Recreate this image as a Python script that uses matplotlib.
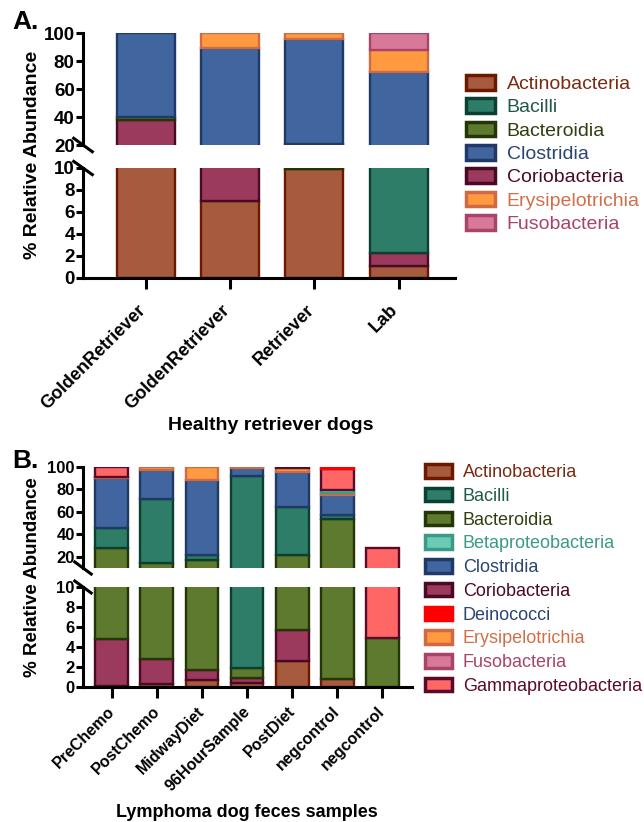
import matplotlib
matplotlib.use("Agg")
import matplotlib.pyplot as plt
from matplotlib.patches import Patch
from matplotlib.transforms import ScaledTranslation

plt.rcParams['font.family'] = ['Liberation Sans', 'DejaVu Sans']

# ---- panel A data (healthy retriever dogs) ----
a_samples = ["GoldenRetriever", "GoldenRetriever", "Retriever", "Lab"]
a_actino = [15, 7, 9.9, 1.1]
a_corio = [23, 8, 0, 1.2]
a_bacteroidia = [2, 0, 11, 0]
a_bacilli = [0, 0, 0, 16]
a_clostridia = [60, 74, 75.1, 53.8]
a_erysip = [0, 11, 4, 16]
a_fuso = [0, 0, 0, 11.9]

# ---- panel B data (lymphoma dog feces) ----
b_samples = ["PreChemo", "PostChemo", "MidwayDiet", "96HourSample",
             "PostDiet", "negcontrol", "negcontrol"]
b_actino = [0.1, 0.3, 0.7, 0.4, 2.6, 0.85, 0]
b_corio = [4.7, 2.5, 1.0, 0.5, 3.1, 0, 0]
b_bacteroidia = [23, 11.8, 15.3, 1.0, 15.8, 53, 4.9]
b_bacilli = [18, 56.8, 4.5, 89.7, 43.2, 3, 0]
b_clostridia = [44.5, 25.6, 66.5, 7.4, 30.5, 18.5, 0]
b_erysip = [0.7, 3, 12, 1.0, 3.8, 1.5, 0]
b_beta = [0, 0, 0, 0, 0, 2.5, 0]
b_fuso = [0, 0, 0, 0, 0, 0, 0]
b_gamma = [9, 0, 0, 0, 1.0, 19, 22.6]
b_deino = [0, 0, 0, 0, 0, 1.6, 0]

# fill, edge, legend text colour
styles = {
    "Actinobacteria": ("#A65A3E", "#6B1A00", "#7A2A10"),
    "Bacilli": ("#2E7D68", "#0B4030", "#1F5A48"),
    "Bacteroidia": ("#5E7A2E", "#243608", "#2F3F10"),
    "Betaproteobacteria": ("#6CCBB5", "#3A9A86", "#3A9A86"),
    "Clostridia": ("#41659E", "#1F3A66", "#2A4570"),
    "Coriobacteria": ("#9B3A5C", "#4A0A26", "#4A0A26"),
    "Deinococci": ("#FF0000", "#FF0000", "#2A4570"),
    "Erysipelotrichia": ("#FF9A40", "#D06A45", "#D0704A"),
    "Fusobacteria": ("#D9799A", "#A84468", "#A84468"),
    "Gammaproteobacteria": ("#FF6666", "#5A0A2A", "#5A0A2A"),
}

a_stack = [("Actinobacteria", a_actino), ("Coriobacteria", a_corio),
           ("Bacteroidia", a_bacteroidia), ("Bacilli", a_bacilli),
           ("Clostridia", a_clostridia), ("Erysipelotrichia", a_erysip),
           ("Fusobacteria", a_fuso)]
b_stack = [("Actinobacteria", b_actino), ("Coriobacteria", b_corio),
           ("Bacteroidia", b_bacteroidia), ("Bacilli", b_bacilli),
           ("Clostridia", b_clostridia), ("Erysipelotrichia", b_erysip),
           ("Betaproteobacteria", b_beta), ("Fusobacteria", b_fuso),
           ("Gammaproteobacteria", b_gamma), ("Deinococci", b_deino)]

a_legend = ["Actinobacteria", "Bacilli", "Bacteroidia", "Clostridia",
            "Coriobacteria", "Erysipelotrichia", "Fusobacteria"]
b_legend = ["Actinobacteria", "Bacilli", "Bacteroidia", "Betaproteobacteria",
            "Clostridia", "Coriobacteria", "Deinococci", "Erysipelotrichia",
            "Fusobacteria", "Gammaproteobacteria"]

W, H = 644, 822
fig = plt.figure(figsize=(W / 100, H / 100), dpi=100)


def box(x0, y0, x1, y1):
    # pixel box (top-left origin) -> figure fraction rect
    return [x0 / W, 1 - y1 / H, (x1 - x0) / W, (y1 - y0) / H]


def panel(stack, samples, xlim, width, top_rect, bot_rect, top_lim,
          tick_fs, xtick_fs, xpad, xshift):
    ax_t = fig.add_axes(top_rect)
    ax_b = fig.add_axes(bot_rect)
    x = list(range(len(samples)))
    for ax in (ax_t, ax_b):
        bottom = [0] * len(samples)
        for name, vals in stack:
            fc, ec, _ = styles[name]
            lw = [1.7 if v > 0 else 0 for v in vals]
            ax.bar(x, vals, width, bottom=bottom, color=fc, edgecolor=ec,
                   linewidth=lw, zorder=2)
            bottom = [b + v for b, v in zip(bottom, vals)]
        ax.set_xlim(*xlim)
        for s in ("top", "right"):
            ax.spines[s].set_visible(False)
        ax.spines["left"].set_linewidth(2.2)
        ax.spines["bottom"].set_linewidth(2.2)
        ax.tick_params(axis="y", width=2.2, length=5, pad=1)
    ax_t.set_ylim(*top_lim)
    ax_t.set_yticks([20, 40, 60, 80, 100])
    ax_t.spines["bottom"].set_visible(False)
    ax_t.tick_params(axis="x", bottom=False, labelbottom=False)
    ax_b.set_ylim(0, 10)
    ax_b.set_yticks([0, 2, 4, 6, 8, 10])
    ax_b.set_xticks(x)
    ax_b.set_xticklabels(samples, rotation=45, ha="right", va="top",
                         rotation_mode="anchor", fontsize=xtick_fs,
                         fontweight="bold")
    ax_b.tick_params(axis="x", width=2.2, length=8, pad=xpad)
    shift = ScaledTranslation(xshift / 100, 0, fig.dpi_scale_trans)
    for t in ax_b.get_xticklabels():
        t.set_transform(t.get_transform() + shift)
    for ax in (ax_t, ax_b):
        for t in ax.get_yticklabels():
            t.set_fontweight("bold")
            t.set_fontsize(tick_fs)
    # break marks
    for ax, yy in ((ax_t, 0), (ax_b, 1)):
        ax.plot([-0.025, 0.025], [yy + 0.06, yy - 0.06], transform=ax.transAxes,
                color="black", lw=2.2, clip_on=False, zorder=5)
    return ax_t, ax_b


# panel A
panel(a_stack, a_samples, (-0.75, 3.67), 0.69,
      box(83, 33, 455, 145), box(83, 168, 455, 278), (20, 100), 13.5, 13, 9, -9)
# panel B
panel(b_stack, b_samples, (-0.64, 6.66), 0.73,
      box(83, 467, 412, 568), box(83, 587, 412, 687), (10, 100), 12, 11.5, 4, -5)

# axis labels / panel letters
fig.text(12 / W, 1 - 22 / H, "A.", fontsize=19, fontweight="bold", va="center")
fig.text(12 / W, 1 - 461 / H, "B.", fontsize=19, fontweight="bold", va="center")
fig.text(33 / W, 1 - 155 / H, "% Relative Abundance", rotation=90,
         fontsize=14, fontweight="bold", ha="center", va="center")
fig.text(33 / W, 1 - 577 / H, "% Relative Abundance", rotation=90,
         fontsize=13.5, fontweight="bold", ha="center", va="center")
fig.text(271 / W, 1 - 425 / H, "Healthy retriever dogs", fontsize=14,
         fontweight="bold", ha="center", va="center")
fig.text(247 / W, 1 - 812 / H, "Lymphoma dog feces samples", fontsize=13,
         fontweight="bold", ha="center", va="center")


def legend(names, anchor, fs, spacing):
    handles = [Patch(facecolor=styles[n][0], edgecolor=styles[n][1],
                     linewidth=2.5) for n in names]
    fig.legend(handles, names, loc="upper left",
               bbox_to_anchor=(anchor[0] / W, 1 - anchor[1] / H),
               frameon=False, fontsize=fs, handlelength=1.5,
               handleheight=0.78, handletextpad=0.6, labelspacing=spacing,
               borderpad=0, borderaxespad=0,
               labelcolor=[styles[n][2] for n in names])


legend(a_legend, (466, 75), 14, 0.27)
legend(b_legend, (425, 464), 13, 0.37)

fig.savefig("out.png", dpi=100)
